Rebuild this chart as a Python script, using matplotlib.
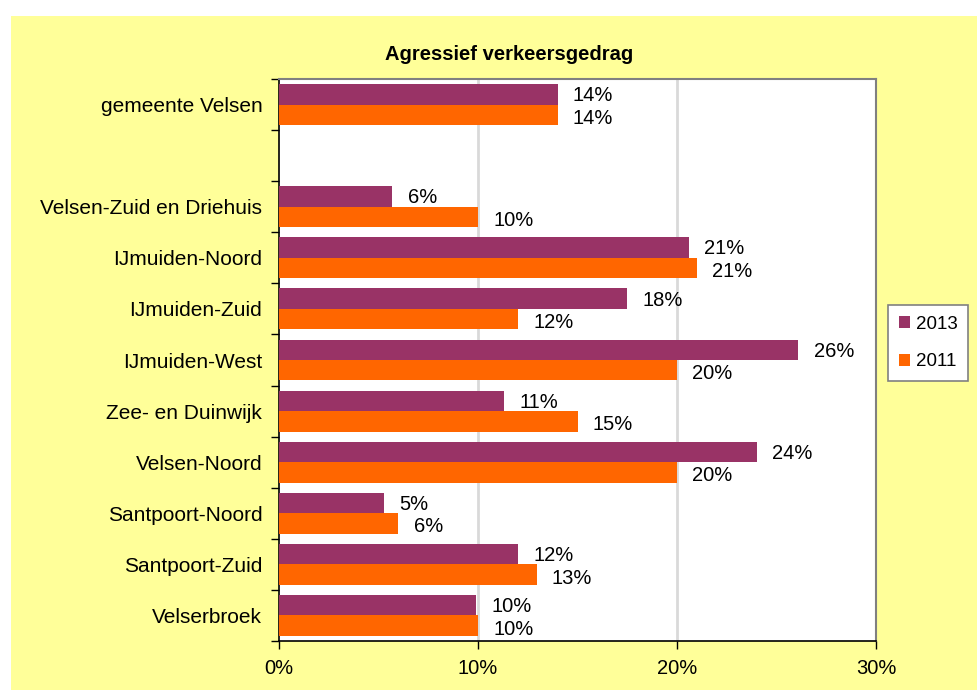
import matplotlib
matplotlib.use("Agg")
import matplotlib.pyplot as plt
from matplotlib.patches import Rectangle, Patch
from matplotlib.ticker import FixedLocator, FuncFormatter

plt.rcParams['font.family'] = ['Liberation Sans', 'DejaVu Sans']

title = "Agressief verkeersgedrag"
categories = ["gemeente Velsen", "Velsen-Zuid en Driehuis", "IJmuiden-Noord",
              "IJmuiden-Zuid", "IJmuiden-West", "Zee- en Duinwijk", "Velsen-Noord",
              "Santpoort-Noord", "Santpoort-Zuid", "Velserbroek"]
series_names = ["2013", "2011"]
values_2013 = [14.0, 5.7, 20.6, 17.5, 26.1, 11.3, 24.0, 5.3, 12.0, 9.9]
values_2011 = [14.0, 10.0, 21.0, 12.0, 20.0, 15.0, 20.0, 6.0, 12.95, 10.0]
x_ticks = [0, 10, 20, 30]

col_2013 = "#993366"
col_2011 = "#FF6600"
bg = "#FFFF99"
fs = 14.5

fig = plt.figure(figsize=(9.78, 6.90), dpi=100)
fig.patch.set_facecolor("white")
fig.patches.append(Rectangle((11/978, 0), 1 - 11/978, 1 - 16/690,
                             transform=fig.transFigure, facecolor=bg,
                             edgecolor="none", zorder=-10))

ax = fig.add_axes([279/978, 1 - 641/690, (876 - 279)/978, (641 - 79)/690])
ax.set_zorder(5)
ax.set_facecolor("white")

# slot positions: gap after the first category
positions = [0] + list(range(2, 2 + len(categories) - 1))
h = 0.4
y13 = [p - h/2 for p in positions]
y11 = [p + h/2 for p in positions]
ax.barh(y13, values_2013, height=h, color=col_2013, edgecolor="none", zorder=3)
ax.barh(y11, values_2011, height=h, color=col_2011, edgecolor="none", zorder=3)

for y, v in zip(y13, values_2013):
    ax.annotate(f"{round(v):.0f}%", (v, y), xytext=(11, -1), textcoords="offset points",
                ha="left", va="center", fontsize=fs, color="black", zorder=4)
for y, v in zip(y11, values_2011):
    ax.annotate(f"{round(v):.0f}%", (v, y), xytext=(11, -2.5), textcoords="offset points",
                ha="left", va="center", fontsize=fs, color="black", zorder=4)

ax.set_xlim(0, 30)
ax.set_ylim(len(categories) + 0.5, -0.5)
ax.set_xticks(x_ticks)
ax.xaxis.set_major_formatter(FuncFormatter(lambda v, p: f"{v:.0f}%"))
ax.tick_params(axis="x", length=6, width=1, direction="out", labelsize=fs, pad=7, color="black")

ax.set_yticks(positions)
ax.set_yticklabels(categories)
ax.tick_params(axis="y", which="major", length=0, labelsize=15, pad=12)
ax.yaxis.set_minor_locator(FixedLocator([p - 0.5 for p in range(len(categories) + 2)]))
ax.tick_params(axis="y", which="minor", length=6, width=1, direction="out", color="black")

for xv in x_ticks[1:-1]:
    ax.axvline(xv, color="#D9D9D9", lw=2, zorder=1)

for s in ["top", "right"]:
    ax.spines[s].set_color("#808080")
    ax.spines[s].set_linewidth(1.5)
for s in ["left", "bottom"]:
    ax.spines[s].set_color("black")
    ax.spines[s].set_linewidth(1.2)

fig.text(509/978, 1 - 55/690, title, ha="center", va="center",
         fontsize=14.5, fontweight="bold")

handles = [Patch(facecolor=col_2013, edgecolor="none", label=series_names[0]),
           Patch(facecolor=col_2011, edgecolor="none", label=series_names[1])]
leg = fig.legend(handles=handles, loc="center", bbox_to_anchor=(928/978, 1 - 343/690),
                 fontsize=13.5, frameon=True, fancybox=False, handlelength=0.6,
                 handleheight=0.6, handletextpad=0.3, labelspacing=1.1,
                 borderpad=0.55, edgecolor="#808080", framealpha=1)
leg.get_frame().set_linewidth(1.2)
leg.get_frame().set_facecolor("white")

fig.savefig("out.png", dpi=100, facecolor=fig.get_facecolor())
